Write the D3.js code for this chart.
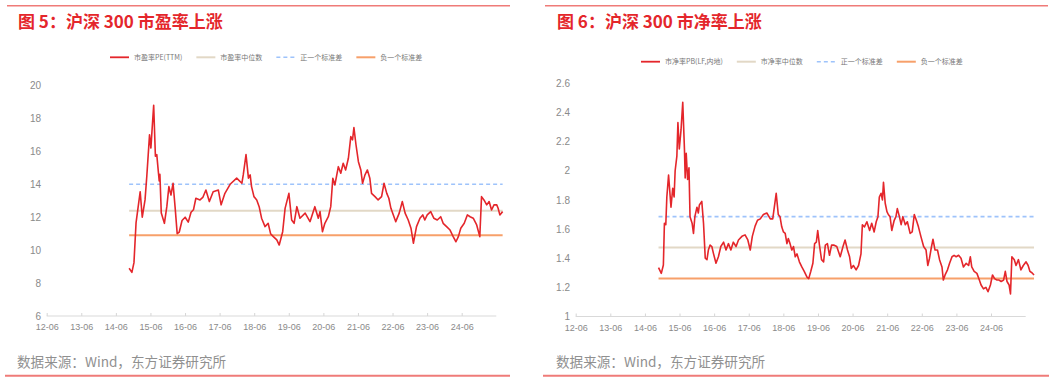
<!DOCTYPE html>
<html><head><meta charset="utf-8">
<script src="https://cdn.jsdelivr.net/npm/d3@7"></script>
<style>body{margin:0;background:#fff}svg{display:block}</style>
</head><body>
<svg id="c" width="1061" height="382"></svg>
<script>
// ---------- data ----------
const titles = ["图 5：沪深 300 市盈率上涨", "图 6：沪深 300 市净率上涨"];
const sourceText = "数据来源：Wind，东方证券研究所";
const xTickYears = [2012,2013,2014,2015,2016,2017,2018,2019,2020,2021,2022,2023,2024];
const xTickLabels = ["12-06","13-06","14-06","15-06","16-06","17-06","18-06","19-06","20-06","21-06","22-06","23-06","24-06"];
const peYTicks = [6,8,10,12,14,16,18,20];
const pbYTicks = [1,1.2,1.4,1.6,1.8,2,2.2,2.4,2.6];
const peLegend = ["市盈率PE(TTM)","市盈率中位数","正一个标准差","负一个标准差"];
const pbLegend = ["市净率PB(LF,内地)","市净率中位数","正一个标准差","负一个标准差"];
// reference lines: [median, +1 sd, -1 sd]
const peRefs = [12.4, 14.0, 10.9];
const pbRefs = [1.473, 1.685, 1.26];
// [decimal year, value]
const peSeries = [[2014.80,8.9],[2014.88,8.65],[2014.94,9.24],[2015.00,11.65],[2015.12,13.55],[2015.18,12.0],[2015.26,13.05],[2015.31,14.46],[2015.39,17.0],[2015.43,16.2],[2015.46,17.2],[2015.51,18.8],[2015.56,15.7],[2015.60,15.8],[2015.63,15.1],[2015.67,14.2],[2015.69,14.6],[2015.73,12.25],[2015.82,11.63],[2015.89,12.64],[2015.95,13.86],[2016.01,13.35],[2016.07,14.06],[2016.13,12.6],[2016.19,11.0],[2016.25,11.1],[2016.33,11.8],[2016.42,12.0],[2016.51,11.7],[2016.59,12.3],[2016.66,12.45],[2016.73,13.15],[2016.85,13.05],[2016.93,13.2],[2017.02,13.65],[2017.12,12.95],[2017.23,13.55],[2017.38,13.65],[2017.46,12.75],[2017.57,13.45],[2017.72,14.0],[2017.91,14.37],[2018.06,14.06],[2018.10,14.57],[2018.18,15.8],[2018.25,14.37],[2018.30,14.57],[2018.34,13.86],[2018.41,13.25],[2018.49,13.05],[2018.56,12.64],[2018.63,11.94],[2018.73,11.43],[2018.82,11.63],[2018.89,11.0],[2018.97,10.82],[2019.07,10.62],[2019.14,10.31],[2019.24,11.12],[2019.31,12.54],[2019.42,13.45],[2019.50,11.83],[2019.57,11.63],[2019.65,12.64],[2019.74,11.94],[2019.89,12.25],[2020.03,11.73],[2020.17,12.64],[2020.27,11.94],[2020.32,12.34],[2020.39,11.12],[2020.46,11.63],[2020.56,12.03],[2020.63,12.64],[2020.69,14.37],[2020.75,13.96],[2020.85,15.07],[2020.92,14.67],[2020.99,15.28],[2021.06,14.87],[2021.14,15.58],[2021.21,16.9],[2021.26,16.7],[2021.30,17.44],[2021.36,16.4],[2021.43,15.37],[2021.50,14.87],[2021.55,14.06],[2021.62,14.57],[2021.69,14.87],[2021.76,14.37],[2021.81,13.45],[2021.91,13.25],[2022.00,13.05],[2022.10,13.25],[2022.17,14.06],[2022.25,13.45],[2022.31,13.15],[2022.37,12.54],[2022.44,12.14],[2022.51,11.73],[2022.61,12.25],[2022.70,12.95],[2022.78,12.25],[2022.87,11.83],[2022.95,11.33],[2023.02,10.42],[2023.11,11.43],[2023.21,11.94],[2023.29,12.14],[2023.35,11.83],[2023.42,12.14],[2023.52,12.34],[2023.61,11.94],[2023.71,11.83],[2023.81,12.03],[2023.88,11.63],[2023.98,11.43],[2024.08,11.22],[2024.17,10.82],[2024.25,10.51],[2024.32,10.82],[2024.39,11.33],[2024.49,11.63],[2024.58,12.14],[2024.66,12.03],[2024.75,11.94],[2024.85,11.53],[2024.94,10.82],[2024.99,13.25],[2025.06,13.05],[2025.14,12.75],[2025.21,12.95],[2025.28,12.44],[2025.35,12.75],[2025.43,12.75],[2025.47,12.54],[2025.52,12.14],[2025.60,12.34]];
const pbSeries = [[2014.81,1.335],[2014.89,1.296],[2014.95,1.353],[2014.98,1.64],[2015.02,1.63],[2015.05,1.82],[2015.10,1.97],[2015.17,1.75],[2015.22,1.88],[2015.26,1.82],[2015.29,2.0],[2015.34,2.1],[2015.37,2.33],[2015.41,2.15],[2015.46,2.28],[2015.51,2.47],[2015.56,2.14],[2015.58,1.95],[2015.61,2.12],[2015.65,1.94],[2015.69,2.02],[2015.72,1.685],[2015.78,1.64],[2015.82,1.57],[2015.86,1.685],[2015.92,1.75],[2015.96,1.71],[2015.99,1.765],[2016.06,1.79],[2016.11,1.64],[2016.16,1.40],[2016.21,1.39],[2016.25,1.456],[2016.30,1.49],[2016.35,1.48],[2016.40,1.43],[2016.47,1.365],[2016.54,1.41],[2016.61,1.48],[2016.69,1.51],[2016.76,1.456],[2016.83,1.50],[2016.90,1.456],[2016.97,1.51],[2017.05,1.48],[2017.12,1.525],[2017.22,1.55],[2017.31,1.56],[2017.39,1.525],[2017.46,1.456],[2017.52,1.55],[2017.60,1.62],[2017.67,1.66],[2017.75,1.67],[2017.84,1.70],[2017.94,1.71],[2018.04,1.67],[2018.11,1.67],[2018.15,1.74],[2018.21,1.845],[2018.27,1.70],[2018.32,1.685],[2018.37,1.615],[2018.42,1.58],[2018.47,1.57],[2018.52,1.50],[2018.56,1.535],[2018.61,1.50],[2018.66,1.456],[2018.71,1.48],[2018.76,1.41],[2018.81,1.43],[2018.88,1.375],[2018.95,1.34],[2019.02,1.31],[2019.10,1.27],[2019.15,1.26],[2019.21,1.31],[2019.27,1.365],[2019.32,1.50],[2019.37,1.51],[2019.41,1.59],[2019.46,1.49],[2019.52,1.39],[2019.58,1.375],[2019.63,1.49],[2019.69,1.50],[2019.75,1.42],[2019.81,1.49],[2019.87,1.49],[2019.96,1.48],[2020.06,1.41],[2020.14,1.48],[2020.20,1.525],[2020.27,1.456],[2020.33,1.41],[2020.38,1.33],[2020.44,1.35],[2020.52,1.32],[2020.59,1.35],[2020.66,1.43],[2020.70,1.63],[2020.76,1.615],[2020.83,1.65],[2020.91,1.59],[2020.97,1.64],[2021.04,1.58],[2021.10,1.65],[2021.15,1.685],[2021.19,1.82],[2021.24,1.845],[2021.28,1.80],[2021.31,1.92],[2021.36,1.777],[2021.41,1.72],[2021.45,1.70],[2021.50,1.685],[2021.55,1.59],[2021.62,1.66],[2021.67,1.685],[2021.71,1.74],[2021.77,1.685],[2021.82,1.63],[2021.87,1.685],[2021.94,1.63],[2022.00,1.65],[2022.08,1.57],[2022.14,1.58],[2022.20,1.70],[2022.26,1.66],[2022.32,1.615],[2022.39,1.55],[2022.47,1.48],[2022.54,1.456],[2022.59,1.35],[2022.64,1.40],[2022.69,1.47],[2022.74,1.53],[2022.80,1.456],[2022.87,1.456],[2022.93,1.39],[2023.00,1.34],[2023.04,1.25],[2023.09,1.285],[2023.16,1.32],[2023.22,1.365],[2023.29,1.41],[2023.35,1.42],[2023.41,1.41],[2023.48,1.42],[2023.55,1.40],[2023.62,1.34],[2023.70,1.365],[2023.77,1.35],[2023.82,1.41],[2023.86,1.34],[2023.93,1.31],[2024.01,1.296],[2024.08,1.25],[2024.13,1.216],[2024.20,1.19],[2024.27,1.20],[2024.33,1.17],[2024.40,1.216],[2024.46,1.285],[2024.52,1.26],[2024.59,1.25],[2024.65,1.25],[2024.71,1.24],[2024.78,1.25],[2024.83,1.31],[2024.88,1.24],[2024.94,1.216],[2024.98,1.155],[2025.02,1.41],[2025.09,1.39],[2025.14,1.35],[2025.21,1.39],[2025.28,1.32],[2025.35,1.35],[2025.43,1.375],[2025.49,1.35],[2025.54,1.31],[2025.60,1.30],[2025.66,1.285]];

// ---------- styles ----------
const RED = "#e4262b", FRAME = "#ef7b78", GRAY = "#8a8a8a";
const refStyles = [
  {color:"#e2d8c6", width:2, dash:null},
  {color:"#9ec3fb", width:1.6, dash:"4,3"},
  {color:"#f7a06a", width:2, dash:null}
];
const axisFont = "'Liberation Sans Narrow','Liberation Sans',Arial,sans-serif";
const cjkFont = "'Noto Sans CJK SC','Noto Sans',sans-serif";

const svg = d3.select("#c");

const panels = [
  {title:titles[0], series:peSeries, refs:peRefs, yTicks:peYTicks, legend:peLegend,
   frame:[7,510], frameB:[5,510], titleX:18, x0:46.7, x12:461.7, axisEnd:496.3,
   yDomain:[6,20], yRange:[316,85.5], yLabelX:41, legendX:110, legendY:57.3,
   yFmt:d=>d3.format("d")(d)},
  {title:titles[1], series:pbSeries, refs:pbRefs, yTicks:pbYTicks, legend:pbLegend,
   frame:[545,1048], frameB:[543,1049], titleX:557, x0:575.7, x12:991, axisEnd:1025.7,
   yDomain:[1,2.6], yRange:[316.5,83.3], yLabelX:570, legendX:641, legendY:61.7,
   yFmt:d=>d3.format("~g")(d)}
];

panels.forEach(p => {
  const g = svg.append("g");
  g.append("line").attr("x1",p.frame[0]).attr("x2",p.frame[1]).attr("y1",5.8).attr("y2",5.8)
    .attr("stroke",FRAME).attr("stroke-width",1.5);
  g.append("line").attr("x1",p.frameB[0]).attr("x2",p.frameB[1]).attr("y1",375.8).attr("y2",375.8)
    .attr("stroke",FRAME).attr("stroke-width",2);
  g.append("text").attr("x",p.titleX).attr("y",27.5).text(p.title)
    .attr("font-family",cjkFont).attr("font-weight","bold").attr("font-size",17).attr("fill",RED);
  g.append("text").attr("x",p.titleX-1).attr("y",366.5).text(sourceText)
    .attr("font-family",cjkFont).attr("font-size",13.6).attr("fill","#909090");

  const tickVals = xTickYears.map(y => y + 5/12);
  const x = d3.scaleLinear().domain([tickVals[0], tickVals[12]]).range([p.x0, p.x12]);
  const y = d3.scaleLinear().domain(p.yDomain).range(p.yRange);
  const yBase = p.yRange[0];

  const xa = g.append("g").attr("transform",`translate(0,${yBase})`)
    .call(d3.axisBottom(x).tickValues(tickVals).tickFormat((d,i)=>xTickLabels[i])
      .tickSizeInner(-3).tickSizeOuter(0).tickPadding(8));
  xa.select(".domain").remove();
  xa.selectAll(".tick line").attr("stroke","#d6d6d6");
  xa.selectAll("text").attr("font-family",axisFont).attr("font-size",9).attr("fill",GRAY);
  xa.append("line").attr("x1",x.range()[0]).attr("x2",p.axisEnd).attr("y1",0).attr("y2",0)
    .attr("stroke","#d9d9d9").attr("stroke-width",1);

  const ya = g.append("g").attr("transform",`translate(${p.yLabelX},0)`)
    .call(d3.axisLeft(y).tickValues(p.yTicks).tickFormat(p.yFmt).tickSize(0).tickPadding(0));
  ya.select(".domain").remove();
  ya.selectAll("text").attr("font-family",axisFont).attr("font-size",10).attr("fill",GRAY);

  const t0 = d3.min(p.series, d=>d[0]), t1 = d3.max(p.series, d=>d[0]);
  p.refs.forEach((v,i) => {
    const s = refStyles[i];
    g.append("line").attr("x1",x(t0)).attr("x2",x(t1)).attr("y1",y(v)).attr("y2",y(v))
      .attr("stroke",s.color).attr("stroke-width",s.width).attr("stroke-dasharray",s.dash);
  });

  g.append("path").datum(p.series)
    .attr("d", d3.line().x(d=>x(d[0])).y(d=>y(d[1])))
    .attr("fill","none").attr("stroke",RED).attr("stroke-width",1.6).attr("stroke-linejoin","round");

  const legStyles = [{color:RED,width:1.8,dash:null}].concat(refStyles);
  let lx = p.legendX;
  p.legend.forEach((lab,i) => {
    const s = legStyles[i];
    g.append("line").attr("x1",lx).attr("x2",lx+19).attr("y1",p.legendY).attr("y2",p.legendY)
      .attr("stroke",s.color).attr("stroke-width",s.width).attr("stroke-dasharray",s.dash);
    const t = g.append("text").attr("x",lx+24).attr("y",p.legendY).attr("dy","0.35em").text(lab)
      .attr("font-family",cjkFont).attr("font-size",7).attr("fill","#777");
    lx += 24 + t.node().getComputedTextLength() + 14;
  });
});
</script>
</body></html>
